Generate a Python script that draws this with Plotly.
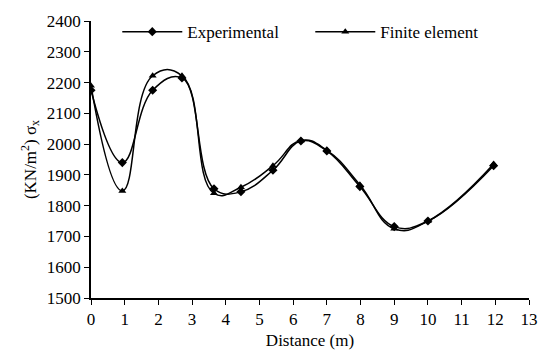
import plotly.graph_objects as go

distance = [0, 0.93, 1.83, 2.7, 3.65, 4.45, 5.4, 6.23, 7.0, 7.98, 9.0, 10.0, 11.95]
experimental = [2175, 1940, 2175, 2215, 1855, 1845, 1915, 2010, 1978, 1862, 1732, 1750, 1930]
finite_element = [2190, 1848, 2222, 2222, 1840, 1860, 1930, 2012, 1980, 1868, 1725, 1750, 1935]

x_ticks = list(range(0, 14))
y_ticks = list(range(1500, 2401, 100))

FONT = "Liberation Serif, Times New Roman, serif"

fig = go.Figure()
fig.add_trace(go.Scatter(
    x=distance, y=experimental, name="Experimental", mode="lines+markers",
    line=dict(color="black", width=1.5, shape="spline", smoothing=1.2),
    marker=dict(symbol="diamond", size=7, color="black"),
))
fig.add_trace(go.Scatter(
    x=distance, y=finite_element, name="Finite element", mode="lines+markers",
    line=dict(color="black", width=1.5, shape="spline", smoothing=1.3),
    marker=dict(symbol="triangle-up", size=7, color="black"),
))

fig.update_layout(
    width=550, height=360,
    margin=dict(l=91, r=14, t=15, b=62),
    paper_bgcolor="white", plot_bgcolor="white",
    font=dict(family=FONT, size=17, color="black"),
    showlegend=True,
    legend=dict(orientation="h", x=0.06, y=1.025, xanchor="left", yanchor="top",
                bgcolor="rgba(0,0,0,0)", font=dict(size=17), itemwidth=60,
                entrywidth=118, entrywidthmode="pixels"),
    xaxis=dict(range=[0, 13], tickvals=x_ticks, ticktext=[str(v) for v in x_ticks],
               showgrid=False, zeroline=False, showline=True, linecolor="black", linewidth=1.5,
               ticks="outside", ticklen=5, tickcolor="black", tickfont=dict(size=17),
               title=dict(text="Distance (m)", font=dict(size=17), standoff=6)),
    yaxis=dict(range=[1500, 2400], tickvals=y_ticks, ticktext=[str(v) for v in y_ticks],
               showgrid=False, zeroline=False, showline=True, linecolor="black", linewidth=1.5,
               ticks="outside", ticklen=5, tickcolor="black", tickfont=dict(size=17),
               title=dict(text="(KN/m<sup>2</sup>) σ<sub>x</sub>", font=dict(size=17), standoff=6)),
)

fig.write_html("out.html")
